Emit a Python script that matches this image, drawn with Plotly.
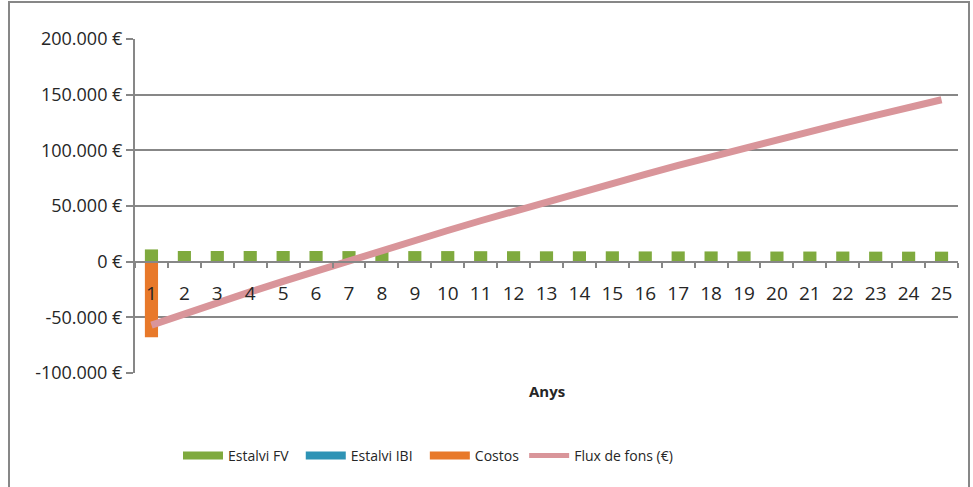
import plotly.graph_objects as go

years = [str(i) for i in range(1, 26)]
estalvi_fv = [11000, 9600, 9600, 9600, 9600, 9600, 9500, 9500, 9500, 9500, 9400, 9400, 9300,
              9300, 9300, 9200, 9200, 9200, 9200, 9100, 9100, 9100, 9000, 9000, 9000]
estalvi_ibi = [0] * 25
costos = [-68000] + [0] * 24
flux = [-57000, -46600, -36820, -27170, -17650, -8260, 1000, 10130, 19130, 28000, 36740,
        45350, 53830, 62180, 70400, 78490, 86450, 94280, 101980, 109550, 116990, 124300,
        131480, 138530, 145450]
y_ticks = [-100000, -50000, 0, 50000, 100000, 150000, 200000]
y_labels = ["-100.000 €", "-50.000 €", "0 €", "50.000 €", "100.000 €", "150.000 €", "200.000 €"]

FONT = "Open Sans"
GRAY = "#878787"
TXT = "#262626"
C_FV, C_IBI, C_COST, C_FLUX = "#7FAA3E", "#2E93B5", "#E8792A", "#D9959A"
NB = "\u00a0"

fig = go.Figure()
fig.add_trace(go.Bar(x=years, y=estalvi_fv, name="Estalvi FV", showlegend=False,
                     marker=dict(color=C_FV, line=dict(width=0))))
fig.add_trace(go.Bar(x=years, y=estalvi_ibi, name="Estalvi IBI", showlegend=False,
                     marker=dict(color=C_IBI, line=dict(width=0))))
fig.add_trace(go.Bar(x=years, y=costos, name="Costos", showlegend=False,
                     marker=dict(color=C_COST, line=dict(width=0))))
fig.add_trace(go.Scatter(x=years, y=flux, name="Flux de fons (€)", mode="lines", showlegend=False,
                         line=dict(color=C_FLUX, width=7)))
# legend entries (wide swatches like the original)
for nm, col, w in [("Estalvi FV" + NB * 2, C_FV, 8), ("Estalvi IBI" + NB * 2, C_IBI, 8),
                   ("Costos", C_COST, 8), ("Flux de fons (€)", C_FLUX, 5)]:
    fig.add_trace(go.Scatter(x=[None], y=[None], name=nm, mode="lines",
                             line=dict(color=col, width=w), showlegend=True))

W, H = 973, 487
L, R, T, B = 135, 15, 39, 114
pw, ph = W - L - R, H - T - B

def px(x):
    return (x - L) / pw

def py(y):
    return (H - B - y) / ph

fig.update_layout(
    width=W, height=H,
    margin=dict(l=L, r=R, t=T, b=B),
    paper_bgcolor="white", plot_bgcolor="white",
    barmode="relative", bargap=0.6,
    font=dict(family=FONT, color=TXT),
    xaxis=dict(type="category", anchor="free", position=1/3, tickson="boundaries",
               ticks="outside", ticklen=5, tickwidth=2, tickcolor=GRAY,
               showline=True, linecolor=GRAY, linewidth=2, showgrid=False,
               tickfont=dict(size=19, color=TXT, family=FONT), ticklabelstandoff=15),
    yaxis=dict(range=[-100000, 200000], tickvals=y_ticks, ticktext=y_labels,
               showgrid=True, gridcolor=GRAY, gridwidth=2, zeroline=False,
               showline=True, linecolor=GRAY, linewidth=2, ticks="outside", ticklen=7,
               tickwidth=2, tickcolor=GRAY, tickfont=dict(size=18, color=TXT, family=FONT)),
    legend=dict(orientation="h", x=px(178), xanchor="left", y=py(456), yanchor="middle",
                font=dict(size=14, color=TXT, family=FONT), itemwidth=40, tracegroupgap=0),
    annotations=[dict(text="<b>Anys</b>", x=0.5, xref="paper", y=py(391), yref="paper",
                      xanchor="center", yanchor="middle", showarrow=False,
                      font=dict(size=15, color=TXT, family=FONT))],
    shapes=[dict(type="rect", xref="paper", yref="paper", x0=px(9), x1=px(969), y0=py(492), y1=py(2),
                 line=dict(color=GRAY, width=2), layer="below")],
)

fig.write_html("out.html")
